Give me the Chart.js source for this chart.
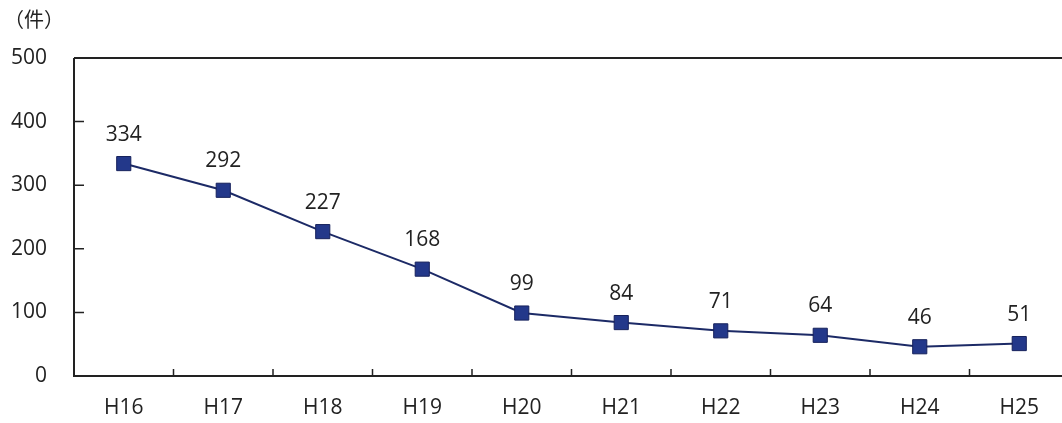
<!DOCTYPE html>
<html>
<head>
<meta charset="utf-8">
<script src="https://cdn.jsdelivr.net/npm/chart.js@4/dist/chart.umd.min.js"></script>
<style>
html,body{margin:0;padding:0;background:#fff;overflow:hidden;}
#wrap{position:relative;width:1080px;height:423px;}
#unit{position:absolute;left:4px;top:4px;font-family:"Noto Sans CJK JP";font-size:20px;color:#222;}
</style>
</head>
<body>
<div id="wrap"><canvas id="c" width="1080" height="423"></canvas><div id="unit">（件）</div></div>
<script>
const categories = ["H16","H17","H18","H19","H20","H21","H22","H23","H24","H25"];
const counts = [334, 292, 227, 168, 99, 84, 71, 64, 46, 51];
const yTicks = [0, 100, 200, 300, 400, 500];

const axisColor = "#222222";
const frame = {
  id: "frame",
  afterDraw(chart) {
    const ctx = chart.ctx, a = chart.chartArea;
    const ys = chart.scales.y, xs = chart.scales.x;
    ctx.save();
    ctx.strokeStyle = axisColor;
    ctx.lineWidth = 2;
    ctx.beginPath();
    ctx.moveTo(a.left, ys.getPixelForValue(500));
    ctx.lineTo(chart.width, ys.getPixelForValue(500));
    ctx.moveTo(a.left, ys.getPixelForValue(500));
    ctx.lineTo(a.left, ys.getPixelForValue(0));
    ctx.lineTo(chart.width, ys.getPixelForValue(0));
    ctx.stroke();
    ctx.lineWidth = 1.5;
    ctx.beginPath();
    yTicks.forEach(v => {
      if (v === 0 || v === 500) return;
      const y = ys.getPixelForValue(v);
      ctx.moveTo(a.left, y); ctx.lineTo(a.left + 10, y);
    });
    const y0 = ys.getPixelForValue(0);
    for (let i = 0; i < categories.length - 1; i++) {
      const x = (xs.getPixelForValue(i) + xs.getPixelForValue(i + 1)) / 2;
      ctx.moveTo(x, y0); ctx.lineTo(x, y0 - 7);
    }
    ctx.stroke();
    // data labels
    const meta = chart.getDatasetMeta(0);
    ctx.fillStyle = "#222";
    ctx.font = '21px "Open Sans"';
    ctx.textAlign = "center";
    ctx.textBaseline = "alphabetic";
    meta.data.forEach((pt, i) => {
      ctx.fillText(String(counts[i]), pt.x, pt.y - 23);
    });
    ctx.restore();
  }
};

new Chart(document.getElementById("c"), {
  type: "line",
  data: {
    labels: categories,
    datasets: [{
      data: counts,
      borderColor: "#1c2a66",
      borderWidth: 2,
      pointStyle: "rect",
      pointRadius: 10,
      pointBackgroundColor: "#23388a",
      pointBorderColor: "#17225c",
      pointBorderWidth: 1,
      tension: 0
    }]
  },
  options: {
    responsive: false,
    animation: false,
    devicePixelRatio: 1,
    layout: { padding: { top: 58, right: 10, left: 0, bottom: 0 } },
    plugins: { legend: { display: false }, tooltip: { enabled: false } },
    scales: {
      x: {
        offset: true,
        grid: { display: false, drawTicks: false },
        border: { display: false },
        ticks: { color: "#222", font: { family: "Open Sans", size: 21 }, padding: 19, maxRotation: 0 },
        afterFit(s) { s.height = 47; }
      },
      y: {
        min: 0, max: 500,
        afterBuildTicks(s) { s.ticks = yTicks.map(v => ({ value: v })); },
        grid: { display: false, drawTicks: false },
        border: { display: false },
        ticks: { color: "#222", font: { family: "Open Sans", size: 21 }, padding: 27 },
        afterFit(s) { s.width = 74; }
      }
    }
  },
  plugins: [frame]
});
</script>
</body>
</html>
